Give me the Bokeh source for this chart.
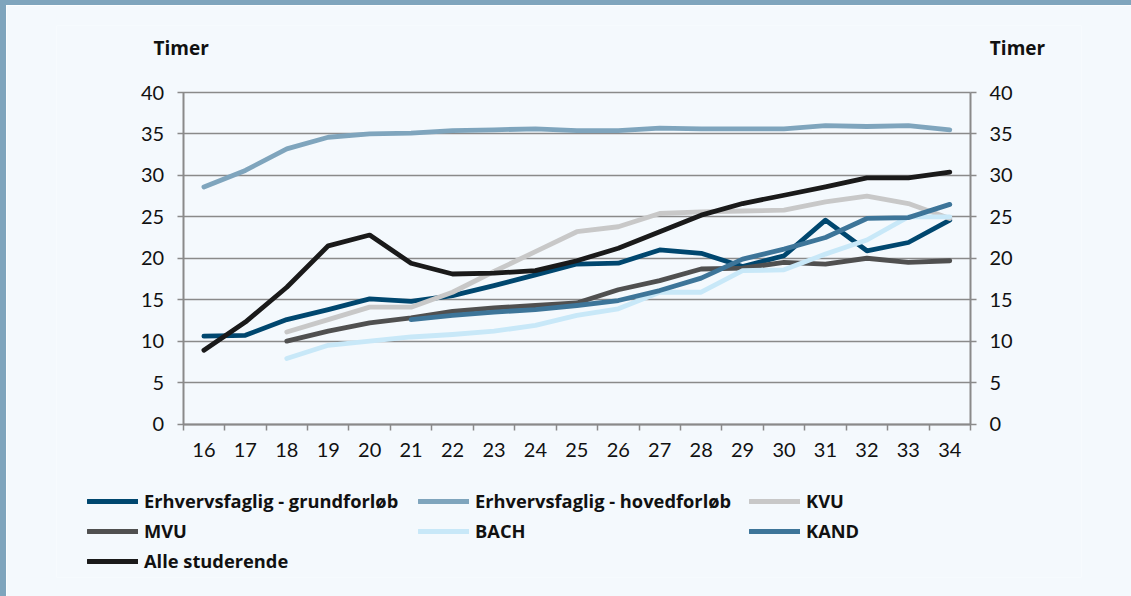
from bokeh.plotting import figure
from bokeh.models import FixedTicker, LinearAxis, Range1d, Legend, LegendItem, Label
from bokeh.embed import file_html
from bokeh.resources import INLINE

ages = list(range(16, 35))
grund = [10.6, 10.7, 12.6, 13.8, 15.1, 14.8, 15.5, 16.7, 18.0, 19.3, 19.4, 21.0, 20.6, 19.0, 20.3, 24.6, 20.9, 21.9, 24.6]
hoved = [28.6, 30.6, 33.2, 34.6, 35.0, 35.1, 35.4, 35.5, 35.6, 35.4, 35.4, 35.7, 35.6, 35.6, 35.6, 36.0, 35.9, 36.0, 35.5]
kvu_ages = list(range(18, 35))
kvu = [11.1, 12.6, 14.1, 14.1, 15.9, 18.4, 20.8, 23.2, 23.8, 25.4, 25.6, 25.7, 25.8, 26.8, 27.5, 26.6, 24.8]
mvu_ages = list(range(18, 35))
mvu = [10.0, 11.2, 12.2, 12.8, 13.6, 14.0, 14.3, 14.6, 16.2, 17.3, 18.7, 18.8, 19.5, 19.3, 20.0, 19.5, 19.7]
bach_ages = list(range(18, 35))
bach = [7.9, 9.5, 10.0, 10.5, 10.8, 11.2, 11.9, 13.1, 13.9, 15.9, 15.9, 18.5, 18.6, 20.5, 22.2, 25.0, 25.0]
kand_ages = list(range(21, 35))
kand = [12.6, 13.1, 13.5, 13.8, 14.3, 14.9, 16.1, 17.6, 19.9, 21.1, 22.5, 24.8, 24.9, 26.5]
alle = [8.9, 12.3, 16.5, 21.5, 22.8, 19.4, 18.1, 18.2, 18.5, 19.7, 21.2, 23.2, 25.2, 26.6, 27.6, 28.6, 29.7, 29.7, 30.4]
y_ticks = [0, 5, 10, 15, 20, 25, 30, 35, 40]
y_title = "Timer"

names = ["Erhvervsfaglig - grundforløb", "Erhvervsfaglig - hovedforløb", "KVU",
         "MVU", "BACH", "KAND", "Alle studerende"]
colors = ["#00476f", "#7fa5bd", "#c8c8c8", "#505050", "#c8e8f8", "#3d7599", "#1a1a1a"]

BG = "#f4f9fd"
FRAME = "#7fa5bd"
GRID = "#8a8a8a"
TXT = "#111111"
FONT = "Lato"
LFONT = "Open Sans"

# page geometry (pixels): where the plotting area of the chart sits, and the drawing frame
X0, X1 = 15.5, 34.5          # category band edges
Y0, Y1 = 0, 40               # value axis extent
PX_L, PX_R = 182.7, 970.0    # page x of X0 / X1
PY_T, PY_B = 92.0, 423.5     # page y of Y1 / Y0
FR_L, FR_R, FR_T, FR_B = 56, 1081, 25, 577   # drawing frame on the page
BL, BT = 6, 5                # page border widths

kx = (PX_R - PX_L) / (X1 - X0)
ky = (PY_B - PY_T) / (Y1 - Y0)
x_range = Range1d(X0 - (PX_L - FR_L) / kx, X1 + (FR_R - PX_R) / kx)
y_range = Range1d(Y0 - (FR_B - PY_B) / ky, Y1 + (PY_T - FR_T) / ky)

p = figure(frame_width=FR_R - FR_L, frame_height=FR_B - FR_T, x_range=x_range, y_range=y_range,
           output_backend="svg", toolbar_location=None, title=None,
           min_border_left=FR_L - BL, min_border_right=1131 - FR_R,
           min_border_top=FR_T - BT, min_border_bottom=596 - FR_B,
           background_fill_color=BG, border_fill_color=BG, outline_line_color=None,
           styles={"border-left": "%dpx solid %s" % (BL, FRAME),
                   "border-top": "%dpx solid %s" % (BT, FRAME)})
p.grid.visible = False

# x axis, fixed at value 0
xa = p.xaxis[0]
xa.fixed_location = Y0
xa.bounds = (X0, X1)
xa.ticker = FixedTicker(ticks=ages, minor_ticks=[a - 0.5 for a in ages] + [X1])
xa.major_tick_line_color = None
xa.major_tick_out = 6
xa.major_tick_in = 0
xa.minor_tick_line_color = GRID
xa.minor_tick_line_width = 1.5
xa.minor_tick_out = 6
xa.minor_tick_in = 0
xa.axis_line_color = GRID
xa.axis_line_width = 2
xa.major_label_standoff = 13
xa.major_label_text_font = FONT
xa.major_label_text_font_size = "20px"
xa.major_label_text_color = TXT

# value axes at both band edges; the left one's inward ticks form the horizontal gridlines
la = p.yaxis[0]
la.fixed_location = X0
ra = LinearAxis(fixed_location=X1)
p.add_layout(ra, "right")
for ax in (la, ra):
    ax.bounds = (Y0, Y1)
    ax.ticker = FixedTicker(ticks=y_ticks)
    ax.major_tick_line_color = GRID
    ax.major_tick_line_width = 1.5
    ax.major_tick_out = 6
    ax.major_tick_in = 0
    ax.minor_tick_line_color = None
    ax.axis_line_color = GRID
    ax.axis_line_width = 2
    ax.major_label_standoff = 13
    ax.major_label_text_font = FONT
    ax.major_label_text_font_size = "20px"
    ax.major_label_text_color = TXT
la.major_tick_in = int(round(PX_R - PX_L))
la.level = "underlay"

series = [(ages, grund), (ages, hoved), (kvu_ages, kvu), (mvu_ages, mvu),
          (bach_ages, bach), (kand_ages, kand), (ages, alle)]
items = []
for (xs, ys), name, c in zip(series, names, colors):
    r = p.line(xs, ys, line_color=c, line_width=4.8, line_cap="round", line_join="round")
    items.append(LegendItem(label=name, renderers=[r]))

legend = Legend(items=items, location=(87 - FR_L, 4), orientation="horizontal", ncols=3,
                glyph_width=51, glyph_height=20, label_height=20, label_standoff=6,
                label_width=269, spacing=5, padding=0, margin=0, border_line_color=None,
                background_fill_alpha=0,
                label_text_font=LFONT, label_text_font_style="bold",
                label_text_font_size="18.3px", label_text_color=TXT)
p.add_layout(legend, "center")

# axis titles over the left and right value axes
for xv, xo in ((X0, -2), (X1, 47)):
    p.add_layout(Label(x=xv, y=Y1, x_offset=xo, y_offset=45, text=y_title,
                       text_font=LFONT, text_font_style="bold", text_font_size="19px",
                       text_align="center", text_baseline="middle", text_color=TXT))

open("out.html", "w").write(file_html(p, INLINE))
